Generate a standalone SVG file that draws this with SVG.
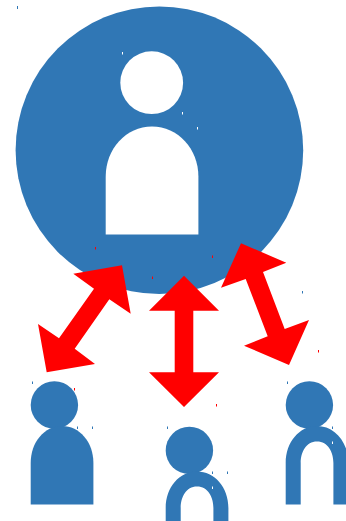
<svg xmlns="http://www.w3.org/2000/svg" width="346" height="521" viewBox="0 0 346 521">
<style>
.b{fill:#3077b5}
.w{fill:#fff}
.r{fill:#f00}
</style>
<rect width="346" height="521" fill="#fff"/>
<g id="main-user">
<circle class="b" cx="159.4" cy="150.2" r="143.8"/>
<circle class="w" cx="151.7" cy="82.7" r="31.4"/>
<path class="w" d="M105.7 234.4V176.5C105.7 149 126 126.5 152 126.5S198.4 149 198.4 176.5V234.4Z"/>
</g>
<g id="user-left">
<circle class="b" cx="54.4" cy="405" r="23.7"/>
<path class="b" d="M30.7 504.4V463C30.7 442 44.5 426 62 426S93.4 442 93.4 463V504.4Z"/>
</g>
<g id="user-middle">
<circle class="b" cx="189.4" cy="450.4" r="23.7"/>
<path class="b" d="M165.7 521V508C165.7 487 179.5 471.4 197 471.4S228.4 487 228.4 508V521H213.4V508C213.4 497 208 486.4 197 486.4S180.7 497 180.7 508V521Z"/>
</g>
<g id="user-right">
<circle class="b" cx="309.4" cy="405" r="23.7"/>
<path class="b" d="M285.7 504.4V463C285.7 442 299.5 426 317 426S348.4 442 348.4 463V504.4H333.4V463C333.4 452 328 441.4 317 441.4S300.7 452 300.7 463V504.4Z"/>
</g>
<g id="connectors">
<polygon class="r" points="122,265.3 130.7,313.7 109.3,299.3 74.7,348.7 95,364 46.7,372.3 38,324 59,338.3 94,288.7 73.3,273.7"/>
<polygon class="r" points="184,275.7 219,310.7 193.3,310.7 193.3,372.3 219,372.3 184,407 149,372.3 174.7,372.3 174.7,310.7 149,310.7"/>
<polygon class="r" points="241,243.3 286.3,262.7 263,272 284.7,329 309,320 289,365 244,345.7 267.7,336.3 245.7,279 221,287.7"/>
</g>
<g id="specks">
<rect class="b" x="17" y="6" width="1" height="3"/>
<rect class="w" x="122" y="52" width="1" height="2.5"/>
<rect class="w" x="182" y="112" width="1" height="2.5"/>
<rect class="w" x="197" y="127" width="1" height="2.5"/>
<rect class="r" x="95" y="247" width="1" height="2.5"/>
<rect class="r" x="212" y="255.5" width="1" height="2.5"/>
<rect class="r" x="152" y="276.5" width="1" height="2.5"/>
<rect class="b" x="302" y="291" width="1" height="2.5"/>
<rect class="r" x="318" y="350" width="1" height="2.5"/>
<rect class="r" x="216" y="404" width="1" height="2.5"/>
<rect class="r" x="74" y="388" width="1" height="2.5"/>
<rect class="b" x="32" y="381.5" width="1" height="2.5"/>
<rect class="b" x="77" y="426.5" width="1" height="2.5"/>
<rect class="b" x="92" y="426.5" width="1" height="2.5"/>
<rect class="b" x="287" y="381.5" width="1" height="2.5"/>
<rect class="b" x="332" y="426.5" width="1" height="2.5"/>
<rect class="w" x="332" y="441.5" width="1" height="2.5"/>
<rect class="b" x="167" y="426.5" width="1" height="2.5"/>
<rect class="b" x="212" y="471.5" width="1" height="2.5"/>
<rect class="b" x="227" y="471.5" width="1" height="2.5"/>
<rect class="w" x="212" y="486.5" width="1" height="2.5"/>
</g>
</svg>
